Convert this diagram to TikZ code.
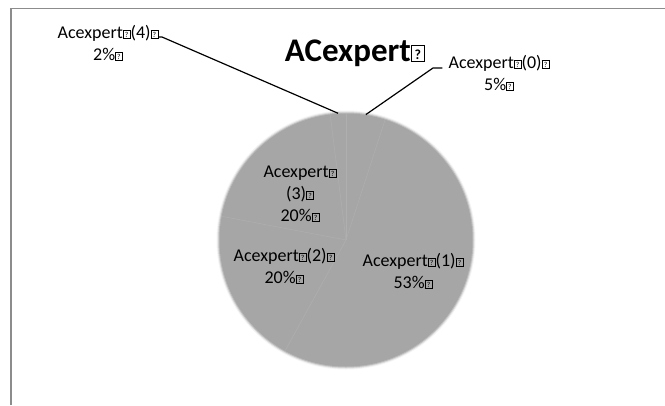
\documentclass[tikz,border=0pt]{standalone}
\usepackage{fontspec}
\setmainfont{Carlito}
\usepackage{graphicx}
\usetikzlibrary{calc}
\definecolor{piegray}{HTML}{A6A6A6}
\definecolor{slicegap}{HTML}{AFAFAF}
\definecolor{framegray}{HTML}{8C8C8C}
% placeholder box for a character the font cannot show
\newcommand\qbox{{\fboxsep=0pt\fboxrule=0.035em\fbox{\makebox[0.36em]{\rule{0pt}{0.45em}\raisebox{0.06em}{\scalebox{0.42}{?}}}}}}
\begin{document}
\begin{tikzpicture}[x=1pt,y=-1pt,
  slicelabel/.style={inner sep=0pt, align=center, font=\fontsize{18}{22}\selectfont},
  leader/.style={black, line width=1.2pt}]
\useasboundingbox (0,0) rectangle (665,405);
\fill[white] (0,0) rectangle (665,405);
% chart frame
\draw[framegray, line width=1.3pt] (11,405) -- (11,8.5) -- (665,8.5);
% pie with a soft rim
\coordinate (c) at (346,240);
\foreach \r/\o in {129.5/0.12,128.5/0.3,127.5/0.6}
  \fill[piegray, opacity=\o] (c) circle[radius=\r pt];
\fill[piegray] (c) circle[radius=126.5pt];
\foreach \a in {90,72,-118.8,169.2,97.2}
  \draw[slicegap, line width=0.5pt] (c) -- ($(c)+(\a:126pt)$);
% title
\node[anchor=base, font=\fontsize{33}{40}\selectfont\bfseries] (title) at (355,61) {ACexpert\qbox};
% slice labels
\node[slicelabel] (l4) at (108,43) {Acexpert\qbox(4)\qbox\\2\%\qbox};
\node[slicelabel] (l0) at (499,73) {Acexpert\qbox(0)\qbox\\5\%\qbox};
\node[slicelabel] (l1) at (413,271) {Acexpert\qbox(1)\qbox\\53\%\qbox};
\node[slicelabel] (l2) at (284,266) {Acexpert\qbox(2)\qbox\\20\%\qbox};
\node[slicelabel] (l3) at (300,194) {Acexpert\qbox\\(3)\qbox\\20\%\qbox};
% leader lines for the two thin slices
\coordinate (e4) at ($(c)+(93.6:127pt)$);
\coordinate (k4) at (162,37);
\draw[leader] (l4.east |- k4) -- (k4) -- (e4);
\coordinate (e0) at ($(c)+(81:127pt)$);
\coordinate (k0) at (433,68);
\draw[leader] ([xshift=-6pt]l0.west |- k0) -- (k0) -- (e0);
\end{tikzpicture}
\end{document}
